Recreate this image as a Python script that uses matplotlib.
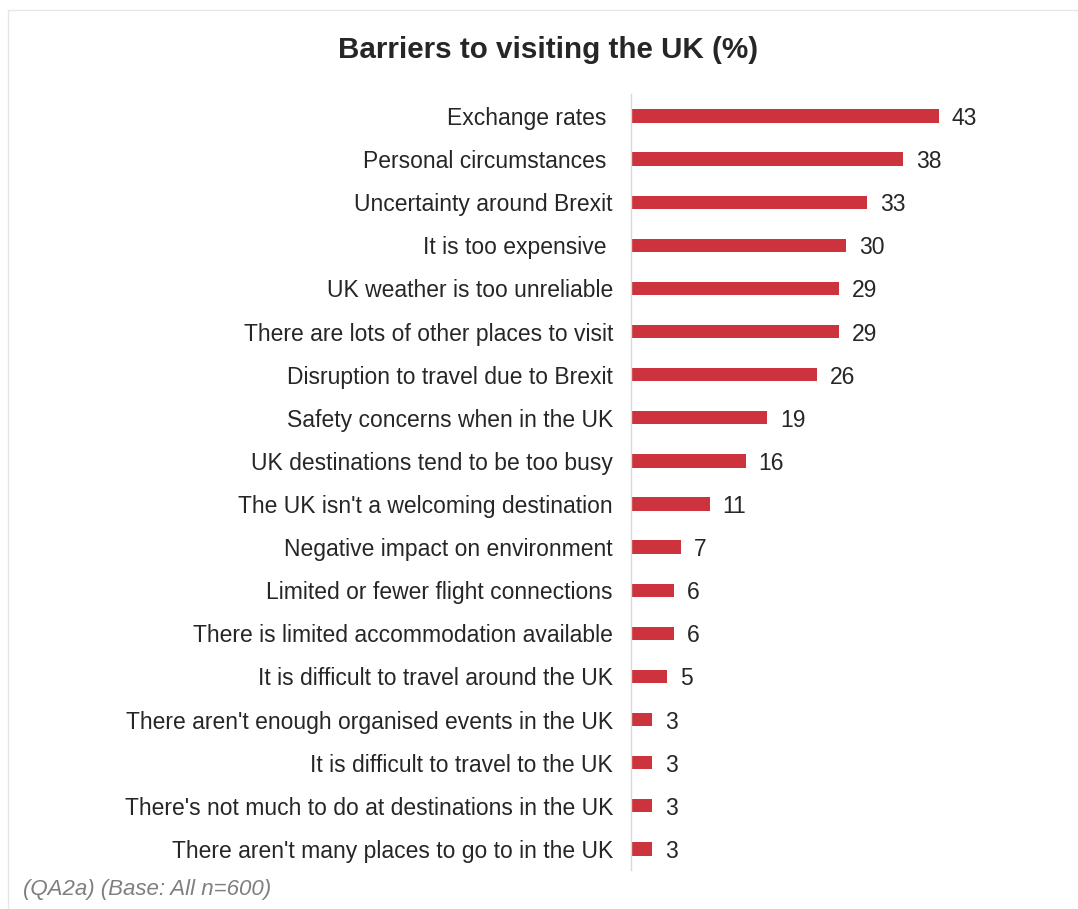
import matplotlib.pyplot as plt
from matplotlib.patches import Rectangle

plt.rcParams["font.family"] = ["Liberation Sans", "DejaVu Sans"]

BAR_RED = "#cc333d"
TEXT = "#262626"
AXIS_GREY = "#d9d9d9"

barriers = [
    "Exchange rates ",
    "Personal circumstances ",
    "Uncertainty around Brexit",
    "It is too expensive ",
    "UK weather is too unreliable",
    "There are lots of other places to visit",
    "Disruption to travel due to Brexit",
    "Safety concerns when in the UK",
    "UK destinations tend to be too busy",
    "The UK isn't a welcoming destination",
    "Negative impact on environment",
    "Limited or fewer flight connections",
    "There is limited accommodation available",
    "It is difficult to travel around the UK",
    "There aren't enough organised events in the UK",
    "It is difficult to travel to the UK",
    "There's not much to do at destinations in the UK",
    "There aren't many places to go to in the UK",
]
percent = [43, 38, 33, 30, 29, 29, 26, 19, 16, 11, 7, 6, 6, 5, 3, 3, 3, 3]

fig = plt.figure(figsize=(10.78, 9.09), dpi=100)
ax = fig.add_axes([0.5853, 0.0424, 0.3655, 0.8537])

y = range(len(barriers))
ax.barh(y, percent, height=0.31, color=BAR_RED)
for i, v in enumerate(percent):
    ax.text(v + 1.8, i, str(v), va="center_baseline", ha="left", fontsize=16.5, color=TEXT)

ax.set_xlim(0, 55)
ax.set_ylim(len(barriers) - 0.5, -0.5)
ax.set_yticks(list(y))
ax.set_yticklabels(barriers, fontsize=16.5, color=TEXT)
ax.tick_params(axis="y", length=0, pad=13)
ax.set_xticks([])
for side in ("top", "right", "bottom"):
    ax.spines[side].set_visible(False)
ax.spines["left"].set_color(AXIS_GREY)
ax.spines["left"].set_linewidth(1)

fig.text(0.508, 0.945, "Barriers to visiting the UK (%)", ha="center", va="center",
         fontsize=21.3, fontweight="bold", color=TEXT)
fig.text(0.021, 0.022, "(QA2a) (Base: All n=600)", ha="left", va="center",
         fontsize=16, style="italic", color="#7f7f7f")

# light frame around the whole chart
fig.add_artist(Rectangle((0.0075, -0.01), 1.0, 0.999, transform=fig.transFigure,
                         fill=False, edgecolor="#e6e6e6", linewidth=1))

fig.savefig("out.png", dpi=100)
